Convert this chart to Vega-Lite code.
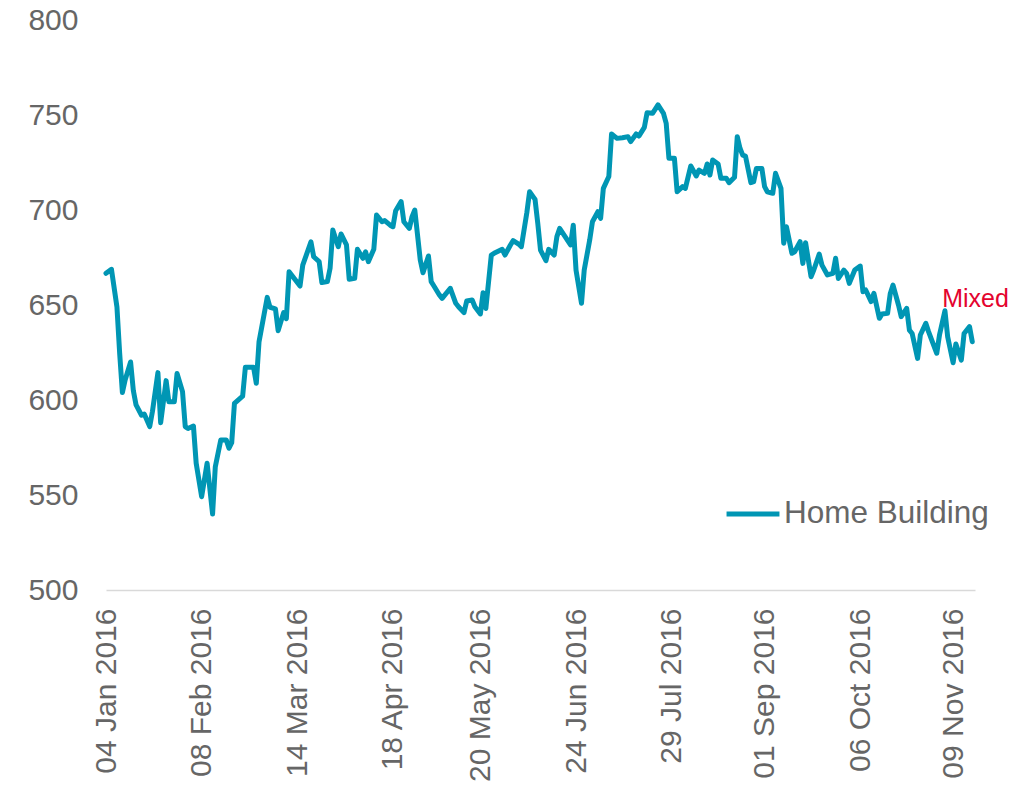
{
 "$schema": "https://vega.github.io/schema/vega-lite/v6.json",
 "width": 869, "height": 570,
 "autosize": "none",
 "padding": {"left": 106, "top": 20, "right": 60, "bottom": 202},
 "background": "white",
 "config": {"view": {"stroke": null}, "font": "Liberation Sans"},
 "layer": [
  {
   "data": {"values": [
    {"date":"2016-01-04","value":666.7},{"date":"2016-01-06","value":668.8},{"date":"2016-01-08","value":649},{"date":"2016-01-09","value":624.6},{"date":"2016-01-10","value":603.9},{"date":"2016-01-11","value":610.5},{"date":"2016-01-13","value":620},{"date":"2016-01-14","value":605},{"date":"2016-01-15","value":597.4},{"date":"2016-01-17","value":592},{"date":"2016-01-18","value":592.6},{"date":"2016-01-20","value":586},{"date":"2016-01-21","value":594},{"date":"2016-01-23","value":614.4},{"date":"2016-01-24","value":588},{"date":"2016-01-26","value":610.2},{"date":"2016-01-27","value":599.1},{"date":"2016-01-29","value":599.1},{"date":"2016-01-30","value":614},
    {"date":"2016-02-01","value":604.4},{"date":"2016-02-02","value":586},{"date":"2016-02-03","value":585},{"date":"2016-02-05","value":586.3},{"date":"2016-02-06","value":566.7},{"date":"2016-02-08","value":549.1},{"date":"2016-02-10","value":566.7},{"date":"2016-02-12","value":540},{"date":"2016-02-13","value":564.9},{"date":"2016-02-15","value":579},{"date":"2016-02-17","value":579},{"date":"2016-02-18","value":574.6},{"date":"2016-02-19","value":577.5},{"date":"2016-02-20","value":598.2},{"date":"2016-02-23","value":602},{"date":"2016-02-24","value":617.2},{"date":"2016-02-27","value":617.2},{"date":"2016-02-28","value":608.8},{"date":"2016-02-29","value":630.7},
    {"date":"2016-03-03","value":654},{"date":"2016-03-04","value":648.8},{"date":"2016-03-06","value":648},{"date":"2016-03-07","value":636.5},{"date":"2016-03-09","value":646},{"date":"2016-03-10","value":642.8},{"date":"2016-03-11","value":667.5},{"date":"2016-03-15","value":660},{"date":"2016-03-16","value":671},{"date":"2016-03-19","value":683.2},{"date":"2016-03-20","value":675.4},{"date":"2016-03-22","value":672.8},{"date":"2016-03-23","value":661.8},{"date":"2016-03-25","value":662.3},{"date":"2016-03-26","value":669.3},{"date":"2016-03-27","value":689.5},{"date":"2016-03-29","value":680.7},{"date":"2016-03-30","value":687.4},
    {"date":"2016-04-01","value":681.6},{"date":"2016-04-02","value":663.5},{"date":"2016-04-04","value":664},{"date":"2016-04-05","value":679.3},{"date":"2016-04-07","value":674.6},{"date":"2016-04-08","value":678},{"date":"2016-04-09","value":672.8},{"date":"2016-04-11","value":679.3},{"date":"2016-04-12","value":697.4},{"date":"2016-04-14","value":693.8},{"date":"2016-04-15","value":694.4},{"date":"2016-04-17","value":692},{"date":"2016-04-18","value":691.2},{"date":"2016-04-19","value":699.6},{"date":"2016-04-21","value":704.4},{"date":"2016-04-22","value":693.8},{"date":"2016-04-24","value":690.3},{"date":"2016-04-25","value":696.5},{"date":"2016-04-26","value":700},{"date":"2016-04-28","value":673.7},{"date":"2016-04-29","value":667},
    {"date":"2016-05-01","value":675.8},{"date":"2016-05-02","value":662.3},{"date":"2016-05-03","value":660},{"date":"2016-05-05","value":655.3},{"date":"2016-05-06","value":653.5},{"date":"2016-05-09","value":658.8},{"date":"2016-05-11","value":650.9},{"date":"2016-05-12","value":649.1},{"date":"2016-05-14","value":646},{"date":"2016-05-15","value":652.1},{"date":"2016-05-17","value":652.6},{"date":"2016-05-18","value":649.1},{"date":"2016-05-20","value":645.3},{"date":"2016-05-21","value":656.5},{"date":"2016-05-22","value":648.2},{"date":"2016-05-24","value":676.3},{"date":"2016-05-25","value":677.2},{"date":"2016-05-28","value":679.3},{"date":"2016-05-29","value":676.3},{"date":"2016-05-31","value":681.6},
    {"date":"2016-06-01","value":683.9},{"date":"2016-06-03","value":682.1},{"date":"2016-06-04","value":680.7},{"date":"2016-06-06","value":698.6},{"date":"2016-06-07","value":709.6},{"date":"2016-06-09","value":705.6},{"date":"2016-06-10","value":693},{"date":"2016-06-11","value":678.9},{"date":"2016-06-13","value":673.3},{"date":"2016-06-14","value":679.3},{"date":"2016-06-16","value":676.3},{"date":"2016-06-17","value":686},{"date":"2016-06-18","value":690.3},{"date":"2016-06-20","value":686},{"date":"2016-06-22","value":681.6},{"date":"2016-06-23","value":692},{"date":"2016-06-24","value":668.4},{"date":"2016-06-26","value":650.9},{"date":"2016-06-27","value":668.4},{"date":"2016-06-29","value":684.2},{"date":"2016-06-30","value":693.8},
    {"date":"2016-07-02","value":699.1},{"date":"2016-07-03","value":695.6},{"date":"2016-07-04","value":711.4},{"date":"2016-07-06","value":717.6},{"date":"2016-07-07","value":740},{"date":"2016-07-09","value":737.7},{"date":"2016-07-11","value":738},{"date":"2016-07-13","value":738.6},{"date":"2016-07-14","value":736},{"date":"2016-07-16","value":740},{"date":"2016-07-17","value":738.9},{"date":"2016-07-19","value":743.5},{"date":"2016-07-20","value":751.2},{"date":"2016-07-22","value":750.9},{"date":"2016-07-24","value":755.3},{"date":"2016-07-26","value":750.9},{"date":"2016-07-27","value":745.6},{"date":"2016-07-28","value":727.2},{"date":"2016-07-30","value":727.2},{"date":"2016-07-31","value":709.6},
    {"date":"2016-08-02","value":712.3},{"date":"2016-08-03","value":711.4},{"date":"2016-08-05","value":723.2},{"date":"2016-08-07","value":717.9},{"date":"2016-08-08","value":721},{"date":"2016-08-10","value":719.3},{"date":"2016-08-11","value":724.2},{"date":"2016-08-12","value":718.4},{"date":"2016-08-13","value":726.3},{"date":"2016-08-15","value":724.2},{"date":"2016-08-16","value":716.7},{"date":"2016-08-18","value":716.7},{"date":"2016-08-19","value":714.4},{"date":"2016-08-21","value":717.2},{"date":"2016-08-22","value":738.6},{"date":"2016-08-23","value":732.5},{"date":"2016-08-24","value":728.9},{"date":"2016-08-25","value":728.4},{"date":"2016-08-27","value":714.4},{"date":"2016-08-28","value":714.9},{"date":"2016-08-29","value":721.9},{"date":"2016-08-31","value":721.9},
    {"date":"2016-09-01","value":712.3},{"date":"2016-09-02","value":709.6},{"date":"2016-09-04","value":708.8},{"date":"2016-09-05","value":719.3},{"date":"2016-09-07","value":711.4},{"date":"2016-09-08","value":682.5},{"date":"2016-09-09","value":691.2},{"date":"2016-09-11","value":677.2},{"date":"2016-09-12","value":678},{"date":"2016-09-14","value":683.3},{"date":"2016-09-15","value":671.9},{"date":"2016-09-16","value":682.8},{"date":"2016-09-18","value":664.9},{"date":"2016-09-19","value":668.4},{"date":"2016-09-21","value":676.8},{"date":"2016-09-22","value":671},{"date":"2016-09-24","value":665.8},{"date":"2016-09-26","value":666.7},{"date":"2016-09-27","value":674.6},{"date":"2016-09-28","value":664},{"date":"2016-09-30","value":668.4},
    {"date":"2016-10-01","value":666.7},{"date":"2016-10-02","value":661.4},{"date":"2016-10-04","value":668.4},{"date":"2016-10-06","value":670.5},{"date":"2016-10-07","value":657},{"date":"2016-10-08","value":657.9},{"date":"2016-10-10","value":651.8},{"date":"2016-10-11","value":656.1},{"date":"2016-10-13","value":643},{"date":"2016-10-14","value":645.3},{"date":"2016-10-16","value":645.6},{"date":"2016-10-17","value":656.1},{"date":"2016-10-18","value":660.5},{"date":"2016-10-20","value":650},{"date":"2016-10-21","value":643.9},{"date":"2016-10-23","value":648.2},{"date":"2016-10-24","value":636.8},{"date":"2016-10-25","value":635},{"date":"2016-10-27","value":621.9},{"date":"2016-10-28","value":634.2},{"date":"2016-10-30","value":640.4},{"date":"2016-10-31","value":636},
    {"date":"2016-11-03","value":624.6},{"date":"2016-11-04","value":634.2},{"date":"2016-11-06","value":647},{"date":"2016-11-07","value":633.3},{"date":"2016-11-09","value":619.6},{"date":"2016-11-10","value":629.5},{"date":"2016-11-12","value":621},{"date":"2016-11-13","value":635},{"date":"2016-11-15","value":638.6},{"date":"2016-11-16","value":630.7}
   ]},
   "mark": {"type": "line", "strokeWidth": 5, "strokeCap": "round", "strokeJoin": "round"},
   "encoding": {
    "x": {
     "field": "date", "type": "temporal",
     "scale": {"type": "utc", "domain": [{"year": 2016, "month": 1, "date": 4, "utc": true}, {"year": 2016, "month": 11, "date": 17, "utc": true}]},
     "axis": {
      "title": null,
      "values": [
       {"year": 2016, "month": 1, "date": 4, "utc": true},
       {"year": 2016, "month": 2, "date": 8, "utc": true},
       {"year": 2016, "month": 3, "date": 14, "utc": true},
       {"year": 2016, "month": 4, "date": 18, "utc": true},
       {"year": 2016, "month": 5, "date": 20, "utc": true},
       {"year": 2016, "month": 6, "date": 24, "utc": true},
       {"year": 2016, "month": 7, "date": 29, "utc": true},
       {"year": 2016, "month": 9, "date": 1, "utc": true},
       {"year": 2016, "month": 10, "date": 6, "utc": true},
       {"year": 2016, "month": 11, "date": 9, "utc": true}
      ],
      "format": "%d %b %Y",
      "labelAngle": -90,
      "labelFontSize": 30,
      "labelColor": "#666666",
      "ticks": false,
      "grid": false,
      "domainColor": "#d9d9d9",
      "domainWidth": 1.5,
      "labelPadding": 18,
      "labelOverlap": false,
      "labelFlush": false
     }
    },
    "y": {
     "field": "value", "type": "quantitative",
     "scale": {"domain": [500, 800], "nice": false, "zero": false},
     "axis": {"title": null, "values": [500, 550, 600, 650, 700, 750, 800], "labelFontSize": 30, "labelColor": "#666666", "ticks": false, "domain": false, "grid": false, "labelPadding": 28}
    },
    "color": {
     "datum": "Home Building",
     "scale": {"range": ["#0096b4"]},
     "legend": {"title": null, "orient": "none", "legendX": 618, "legendY": 465, "symbolType": "stroke", "symbolSize": 2800, "symbolStrokeWidth": 5, "labelFontSize": 31.5, "labelColor": "#666666", "labelOffset": 2, "labelLimit": 0, "padding": 0}
    }
   }
  },
  {
   "data": {"values": [{"date": "2016-11-05", "value": 649, "label": "Mixed"}]},
   "mark": {"type": "text", "align": "left", "baseline": "alphabetic", "fontSize": 25, "color": "#e4032e"},
   "encoding": {
    "x": {"field": "date", "type": "temporal"},
    "y": {"field": "value", "type": "quantitative"},
    "text": {"field": "label"}
   }
  }
 ]
}
